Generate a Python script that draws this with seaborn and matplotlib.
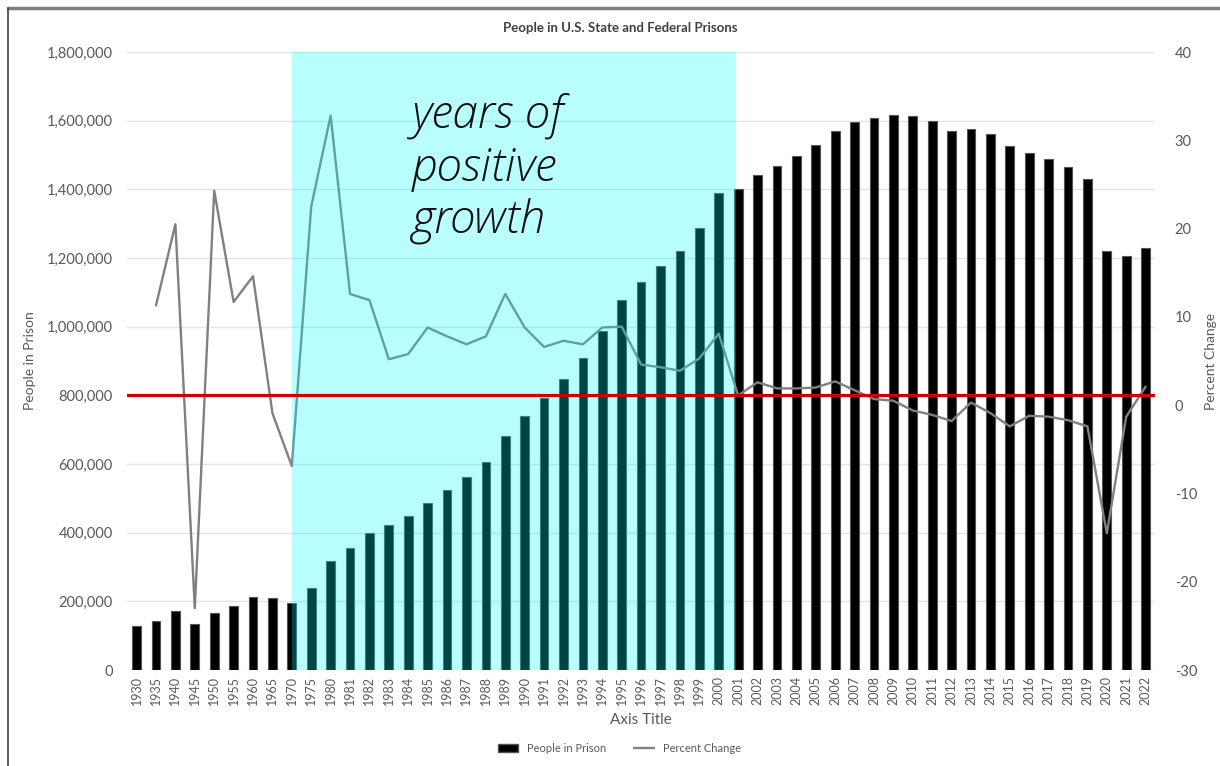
import matplotlib.pyplot as plt
import matplotlib.transforms as mtransforms
from matplotlib.lines import Line2D
from matplotlib.patches import Patch
import seaborn as sns
import pandas as pd

years = ["1930", "1935", "1940", "1945", "1950", "1955", "1960", "1965", "1970",
         "1975", "1980"] + [str(y) for y in range(1981, 2023)]

people_in_prison = [
    128000, 143000, 172000, 134000, 166000, 186000, 212000, 210000, 196000,
    240000, 318000,
    356000, 400000, 422000, 448000, 487000, 524000, 562000, 605000, 682000, 740000,
    792000, 848000, 908000, 988000, 1078000, 1130000, 1177000, 1220000, 1287000, 1390000,
    1401000, 1442000, 1468000, 1497000, 1529000, 1570000, 1596000, 1608000, 1617000, 1613000,
    1599000, 1570000, 1575000, 1561000, 1526000, 1506000, 1489000, 1465000, 1430000, 1221000,
    1205000, 1230000,
]

percent_change = [
    None, 11.3, 20.5, -23.0, 24.3, 11.7, 14.6, -0.9, -6.9,
    22.5, 32.8,
    12.6, 11.9, 5.2, 5.8, 8.8, 7.8, 6.9, 7.8, 12.6, 8.8,
    6.6, 7.3, 6.9, 8.8, 8.9, 4.6, 4.3, 3.9, 5.3, 8.1,
    1.1, 2.6, 1.9, 1.9, 2.0, 2.7, 1.7, 0.7, 0.5, -0.6,
    -1.1, -1.8, 0.3, -0.9, -2.4, -1.2, -1.3, -1.7, -2.4, -14.5,
    -1.3, 2.1,
]

highlight_start = "1970"
highlight_end = "2001"
reference_value = 800000

df = pd.DataFrame({"year": years, "people": people_in_prison, "pct": percent_change})
df["pos"] = range(len(df))

sns.set_theme(style="white")
plt.rcParams["font.family"] = ["Lato", "DejaVu Sans"]

fig = plt.figure(figsize=(12.2, 7.66), dpi=100)
ax = fig.add_axes([0.104, 0.1253, 0.843, 0.8067])
ax2 = ax.twinx()

label_color = "#595959"

sns.barplot(data=df, x="year", y="people", color="black", width=0.45,
            edgecolor="#555555", linewidth=0.8, saturation=1, ax=ax)
ax.set_ylim(0, 1800000)
ax.set_xlim(-0.5, len(years) - 0.5)
ax.set_yticks(range(0, 1800001, 200000))
ax.set_yticklabels([f"{v:,}" for v in range(0, 1800001, 200000)],
                   color=label_color, fontsize=10.5)
ax.yaxis.grid(True, color="#e3e3e3", linewidth=1)
ax.set_axisbelow(True)
ax.tick_params(axis="x", rotation=90, labelsize=9, colors=label_color, length=0, pad=4)
ax.tick_params(axis="y", length=0, pad=10)
ax.set_xlabel("Axis Title", color=label_color, fontsize=11, labelpad=6)
ax.set_ylabel("People in Prison", color=label_color, fontsize=10, labelpad=8)

line_df = df.dropna(subset=["pct"])
sns.lineplot(data=line_df, x="pos", y="pct", color="#808080", linewidth=1.7,
             ax=ax2, zorder=2)
ax2.set_ylim(-30, 40)
ax2.set_yticks(range(-30, 41, 10))
ax2.set_yticklabels([str(v) for v in range(-30, 41, 10)], color=label_color, fontsize=10.5)
ax2.tick_params(axis="y", length=0, pad=14)
ax2.set_ylabel("Percent Change", color=label_color, fontsize=10, labelpad=6)
ax2.set_xlabel("")

for a in (ax, ax2):
    for s in a.spines.values():
        s.set_visible(False)

# shaded period, drawn over bars and line
x0 = years.index(highlight_start)
x1 = years.index(highlight_end) - 0.13
ax2.axvspan(x0, x1, color="#00ffff", alpha=0.27, linewidth=0, zorder=3)

# red reference line at 800,000 people
trans = mtransforms.blended_transform_factory(ax2.transAxes, ax.transData)
ax2.add_line(Line2D([0, 1], [reference_value, reference_value], transform=trans,
                    color="#cc0000", linewidth=2.3, zorder=4))

ax2.text(x0 + 6.2, 1.24e6, "years of\npositive\ngrowth",
         transform=mtransforms.blended_transform_factory(ax2.transData, ax.transData),
         family=["Open Sans", "DejaVu Sans"], fontsize=33, fontstyle="italic",
         fontweight="light", color="#111111",
         linespacing=1.18, ha="left", va="bottom", zorder=5)

fig.text(0.508, 0.963, "People in U.S. State and Federal Prisons", ha="center",
         va="center", fontsize=9.5, fontweight="bold", color="#404040")

handles = [Patch(facecolor="black", edgecolor="#555555"),
           Line2D([0], [0], color="#808080", linewidth=1.7)]
fig.legend(handles, ["People in Prison", "Percent Change"], loc="center",
           bbox_to_anchor=(0.508, 0.023), ncol=2, frameon=False, fontsize=8,
           labelcolor=label_color, handlelength=1.8, columnspacing=2.5)

# screenshot frame
fig.add_artist(Line2D([0.0066, 1.0], [0.989, 0.989], transform=fig.transFigure,
                      color="#7f7f7f", linewidth=2.5))
fig.add_artist(Line2D([0.0066, 0.0066], [0.0, 0.989], transform=fig.transFigure,
                      color="#404040", linewidth=1.2))

fig.savefig("out.png", dpi=100)
